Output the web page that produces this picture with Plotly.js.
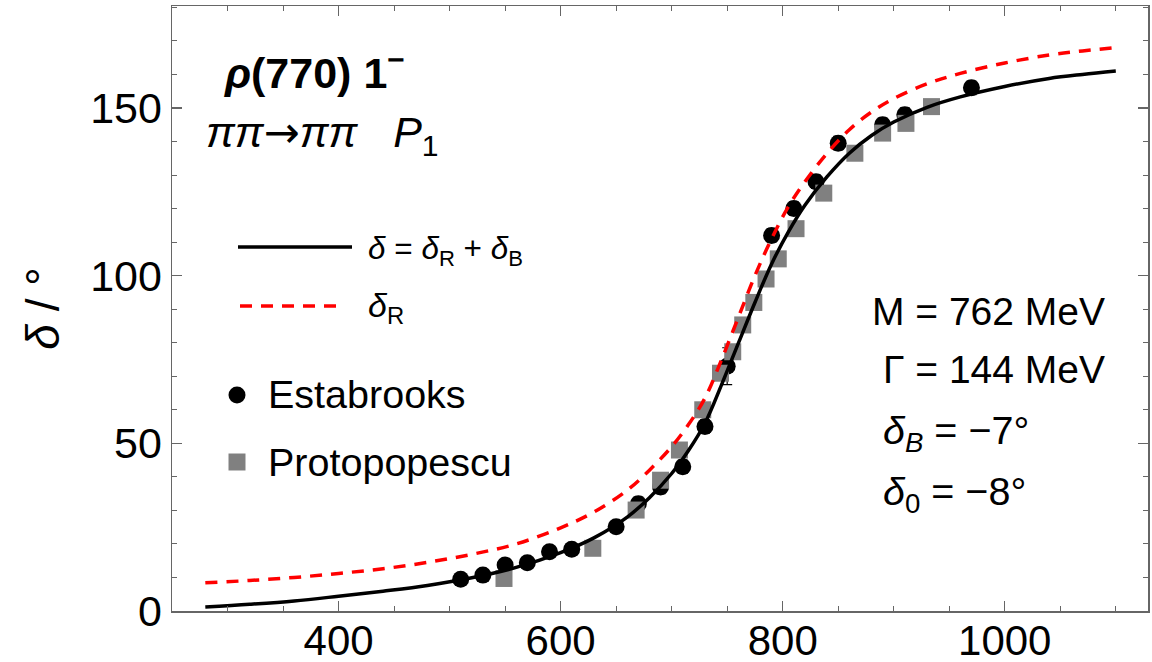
<!DOCTYPE html>
<html>
<head>
<meta charset="utf-8">
<script src="https://cdn.plot.ly/plotly-3.0.1.min.js"></script>
<style>html,body{margin:0;padding:0;background:#fff;}#chart{width:1152px;height:662px;}</style>
</head>
<body>
<div id="chart"></div>
<script>
// Fit curves
const curveE = [280,320,360,400,440,480,520,560,600,630,660,680,700,715,730,745,760,775,790,805,820,840,860,880,900,930,960,1000,1040,1070,1100];
const deltaR = [8.4,9.1,10.0,11.2,12.6,14.5,16.9,20.0,24.8,29.5,36.0,42.0,49.0,55.5,63.5,75.0,87.5,100.0,111.0,120.5,128.0,136.5,143.5,148.8,152.8,157.2,160.3,163.4,165.8,167.0,168.0];
const deltaTot = [1.2,2.0,3.0,4.4,5.9,7.6,9.9,13.0,17.4,21.8,28.0,33.8,41.0,47.8,56.0,67.5,79.8,92.0,103.5,113.0,121.0,129.5,136.5,141.8,145.8,150.2,153.3,156.4,158.8,160.0,161.0];

// Estabrooks data
const estE = [510,530,550,570,590,610,650,670,690,710,730,750,790,810,830,850,890,910,970];
const estD = [9.5,10.7,13.7,14.4,17.7,18.4,25.1,32.0,37.0,43.0,55.0,73.0,112.0,120.0,128.0,139.5,145.0,148.0,156.0];
const estErr = [1,1,1,1,1.5,1,1.5,2,2,2,2,5.5,2,2,2,2,2,2,2];

// Protopopescu data
const proE = [549,629,668,690,707,728,744,755,764,774,785,796,812,837,865,890,911,934];
const proD = [9.7,18.7,30.1,39.0,48.0,60.0,70.9,77.3,85.3,92.0,99.0,105.0,114.0,124.6,136.5,142.5,145.4,150.4];

const FONT = "Liberation Sans, Arial, Helvetica, sans-serif";

const traces = [
  {x: estE, y: estD, type: 'scatter', mode: 'markers', name: 'Estabrooks',
   marker: {symbol: 'circle', size: 17, color: '#000'},
   error_y: {type: 'data', array: estErr, visible: true, color: '#000', thickness: 1.2, width: 5},
   showlegend: false},
  {x: proE, y: proD, type: 'scatter', mode: 'markers', name: 'Protopopescu',
   marker: {symbol: 'square', size: 17, color: '#808080'}, showlegend: false},
  {x: curveE, y: deltaR, type: 'scatter', mode: 'lines', name: 'δR',
   line: {color: '#ff0000', width: 3.5, dash: '12px,9px', shape: 'spline', smoothing: 1}, showlegend: false},
  {x: curveE, y: deltaTot, type: 'scatter', mode: 'lines', name: 'δ = δR + δB',
   line: {color: '#000', width: 3.5, shape: 'spline', smoothing: 1}, showlegend: false}
];

const L = 172, R = 1148, T = 6, B = 611;
const px = v => (v - L) / (R - L);
const py = v => (B - v) / (B - T);

function ann(text, x, y, xanchor, size, extra) {
  return Object.assign({text: text, xref: 'paper', yref: 'paper', x: px(x), y: py(y),
    xanchor: xanchor, yanchor: 'middle', showarrow: false,
    font: {family: FONT, size: size, color: '#000'}}, extra || {});
}

const layout = {
  width: 1152, height: 662,
  margin: {l: L, r: 1152 - R, t: T, b: 662 - B, pad: 0},
  paper_bgcolor: '#fff', plot_bgcolor: '#fff',
  font: {family: FONT, size: 36, color: '#000'},
  xaxis: {
    range: [250, 1129], showgrid: false, zeroline: false,
    showline: true, linecolor: '#666', linewidth: 1.5, mirror: 'ticks',
    ticks: 'inside', ticklen: 10, tickwidth: 1.2, tickcolor: '#666',
    tickmode: 'array', tickvals: [400, 600, 800, 1000], ticktext: ['400', '600', '800', '1000'],
    minor: {dtick: 50, tick0: 0, ticks: 'inside', ticklen: 5, tickcolor: '#666', tickwidth: 1},
    tickfont: {family: FONT, size: 42, color: '#000'},
    ticklabelstandoff: -8
  },
  yaxis: {
    range: [0, 180.4], showgrid: false, zeroline: false,
    showline: true, linecolor: '#666', linewidth: 1.5, mirror: 'ticks',
    ticks: 'inside', ticklen: 10, tickwidth: 1.2, tickcolor: '#666',
    tickmode: 'array', tickvals: [0, 50, 100, 150], ticktext: ['0', '50', '100', '150'],
    minor: {dtick: 10, tick0: 0, ticks: 'inside', ticklen: 5, tickcolor: '#666', tickwidth: 1},
    tickfont: {family: FONT, size: 43, color: '#000'},
    title: {text: '<i>δ</i> / °', font: {family: FONT, size: 46, color: '#000'}, standoff: 16}
  },
  shapes: [
    {type: 'line', xref: 'paper', yref: 'paper', x0: px(238), x1: px(352), y0: py(247), y1: py(247), line: {color: '#000', width: 3.5}},
    {type: 'line', xref: 'paper', yref: 'paper', x0: px(240), x1: px(343), y0: py(306), y1: py(306), line: {color: '#ff0000', width: 3.5, dash: '12px,9px'}},
    {type: 'circle', xref: 'paper', yref: 'paper', x0: px(228.5), x1: px(245.5), y0: py(403.5), y1: py(386.5), fillcolor: '#000', line: {width: 0}},
    {type: 'rect', xref: 'paper', yref: 'paper', x0: px(228.5), x1: px(245.5), y0: py(470.5), y1: py(453.5), fillcolor: '#808080', line: {width: 0}}
  ],
  annotations: [
    ann('<b><i>ρ</i>(770) 1<sup>−</sup></b>', 222, 70, 'left', 43),
    ann('<i>ππ</i><span style="font-family:DejaVu Sans">→</span><i>ππ</i>&nbsp;&nbsp;&nbsp;<i>P</i><sub>1</sub>', 204, 134, 'left', 43),
    ann('<i>δ</i> = <i>δ</i><sub>R</sub> + <i>δ</i><sub>B</sub>', 366, 250, 'left', 31.5),
    ann('<i>δ</i><sub>R</sub>', 366, 307, 'left', 34),
    ann('Estabrooks', 266, 394, 'left', 39.5),
    ann('Protopopescu', 266, 462, 'left', 39.5),
    ann('M = 762 MeV', 1107, 311, 'right', 39),
    ann('Γ = 144 MeV', 1107, 369, 'right', 39),
    ann('<i>δ<sub>B</sub></i> = −7°', 881, 433, 'left', 39.5),
    ann('<i>δ</i><sub>0</sub> = −8°', 881, 494, 'left', 39.5)
  ]
};

Plotly.newPlot('chart', traces, layout, {displayModeBar: false, staticPlot: true});
</script>
</body>
</html>
